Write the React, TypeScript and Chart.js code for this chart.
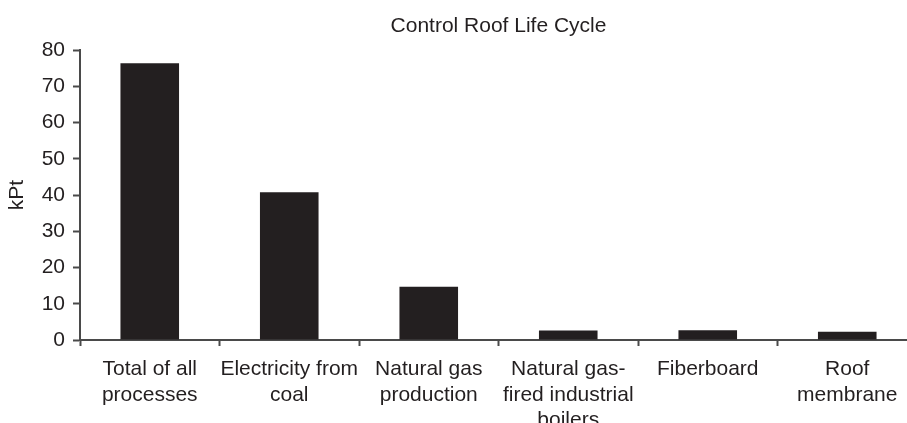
import React, { useEffect, useRef } from "react";
import { Chart, registerables } from "chart.js";

Chart.register(...registerables);

const categories: string[][] = [
  ["Total of all", "processes"],
  ["Electricity from", "coal"],
  ["Natural gas", "production"],
  ["Natural gas-", "fired industrial", "boilers"],
  ["Fiberboard"],
  ["Roof", "membrane"],
];
const values: number[] = [76.4, 40.8, 14.7, 2.6, 2.7, 2.3];
const chartTitle = "Control Roof Life Cycle";
const yAxisTitle = "kPt";
const yMin = 0;
const yMax = 80;
const yStep = 10;

const FONT = "'Liberation Sans', Arial, Helvetica, sans-serif";
const INK = "#231f20";
const AXIS = "#4a4a4a";

export default function App() {
  const ref = useRef<HTMLCanvasElement | null>(null);

  useEffect(() => {
    if (!ref.current) return;
    const chart = new Chart(ref.current, {
      type: "bar",
      data: {
        labels: categories,
        datasets: [
          {
            data: values,
            backgroundColor: INK,
            borderWidth: 0,
            categoryPercentage: 1,
            barPercentage: 0.42,
          },
        ],
      },
      options: {
        responsive: false,
        animation: false,
        layout: { padding: 0 },
        plugins: {
          legend: { display: false },
          tooltip: { enabled: false },
          title: {
            display: true,
            text: chartTitle,
            fullSize: false,
            color: INK,
            font: { family: FONT, size: 21, weight: "normal", lineHeight: 1.2 },
            padding: { top: 14, bottom: 11 },
          },
        },
        scales: {
          x: {
            grid: {
              display: true,
              drawOnChartArea: false,
              drawTicks: true,
              tickLength: 6,
              tickWidth: 2,
              tickColor: AXIS,
              offset: true,
            },
            border: { display: true, color: AXIS, width: 2 },
            ticks: {
              color: INK,
              font: { family: FONT, size: 21, lineHeight: 1.2 },
              padding: 11,
              maxRotation: 0,
              minRotation: 0,
              autoSkip: false,
            },
            afterFit: (scale: any) => {
              scale.height = 100;
            },
          },
          y: {
            min: yMin,
            max: yMax,
            grid: {
              display: true,
              drawOnChartArea: false,
              drawTicks: true,
              tickLength: 7,
              tickWidth: 2,
              tickColor: AXIS,
            },
            border: { display: true, color: AXIS, width: 2 },
            ticks: {
              stepSize: yStep,
              color: INK,
              font: { family: FONT, size: 21 },
              padding: 8,
            },
            title: {
              display: true,
              text: yAxisTitle,
              color: INK,
              font: { family: FONT, size: 21, lineHeight: 1.2 },
              padding: { top: 5, bottom: 0 },
            },
            afterFit: (scale: any) => {
              scale.width = 80;
            },
          },
        },
      },
    });
    return () => chart.destroy();
  }, []);

  return (
    <div
      style={{
        position: "fixed",
        left: 0,
        top: 0,
        width: 907,
        height: 423,
        overflow: "hidden",
        background: "#fff",
      }}
    >
      <canvas ref={ref} width={917} height={440} style={{ display: "block" }} />
    </div>
  );
}
